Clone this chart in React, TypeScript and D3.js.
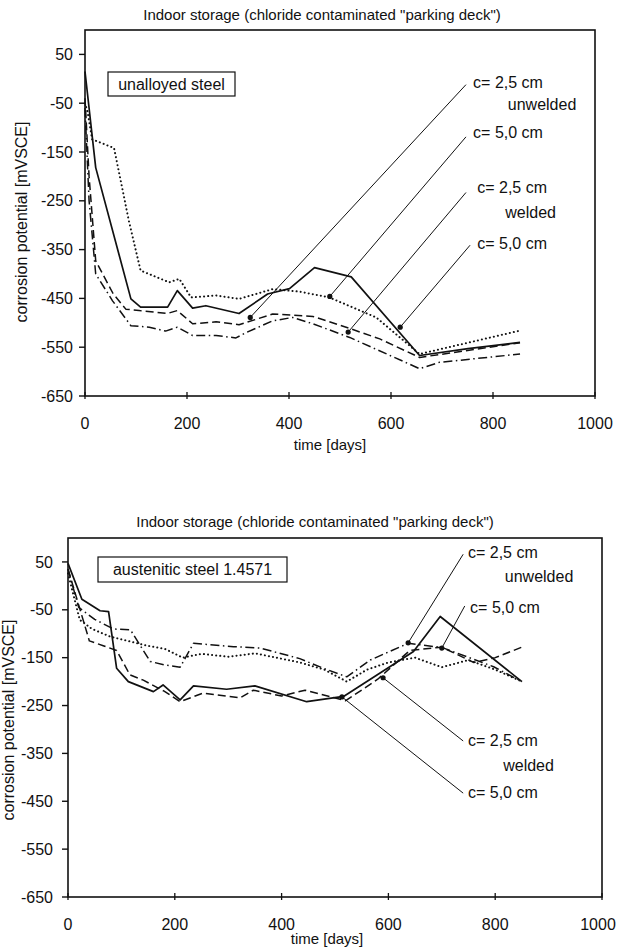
import React from 'react';
import * as d3 from 'd3';

type Pt = [number, number];

// ---------- shared texts / ticks ----------
const titleText = 'Indoor storage (chloride contaminated "parking deck")';
const xAxisTitle = 'time [days]';
const yAxisTitle = 'corrosion potential [mVSCE]';
const xTicks = [0, 200, 400, 600, 800, 1000];
const yTicks = [50, -50, -150, -250, -350, -450, -550, -650];
const xDomain: Pt = [0, 1000];
const yDomain: Pt = [-650, 100];

// ---------- top chart: unalloyed steel ----------
const topBoxLabel = 'unalloyed steel';
const topSolid: Pt[] = [[0, 15], [21, -182], [90, -451], [109, -468], [162, -468], [181, -434], [211, -470], [237, -465], [302, -481], [358, -441], [401, -430], [450, -387], [522, -406], [656, -567], [751, -553], [853, -540]];
const topDotted: Pt[] = [[0, -50], [5, -67], [14, -124], [57, -142], [86, -291], [109, -393], [165, -417], [185, -410], [208, -448], [257, -444], [302, -451], [368, -431], [420, -436], [479, -448], [571, -489], [656, -564], [853, -516]];
const topDashed: Pt[] = [[0, -40], [8, -200], [21, -373], [55, -440], [80, -472], [106, -475], [161, -481], [181, -475], [211, -502], [257, -498], [302, -504], [368, -482], [447, -487], [512, -509], [578, -533], [656, -571], [853, -541]];
const topDashDot: Pt[] = [[0, -60], [8, -250], [21, -400], [54, -455], [90, -506], [126, -509], [158, -517], [181, -509], [211, -526], [257, -526], [296, -531], [316, -520], [368, -496], [407, -489], [447, -502], [519, -530], [656, -594], [695, -581], [853, -564]];
const topLabels: { text: string; day: number; value: number }[] = [
  { text: 'c= 2,5 cm', day: 761, value: -18 },
  { text: 'unwelded', day: 829, value: -63 },
  { text: 'c= 5,0 cm', day: 761, value: -121 },
  { text: 'c= 2,5 cm', day: 769, value: -235 },
  { text: 'welded', day: 824, value: -286 },
  { text: 'c= 5,0 cm', day: 769, value: -348 },
];
const topLeaders: { fromDay: number; fromValue: number; toDay: number; toValue: number }[] = [
  { fromDay: 747, fromValue: -12, toDay: 324, toValue: -489 },
  { fromDay: 747, fromValue: -119, toDay: 480, toValue: -446 },
  { fromDay: 747, fromValue: -233, toDay: 516, toValue: -519 },
  { fromDay: 755, fromValue: -341, toDay: 618, toValue: -509 },
];

// ---------- bottom chart: austenitic steel ----------
const botBoxLabel = 'austenitic steel 1.4571';
const botSolid: Pt[] = [[0, 47], [26, -28], [60, -52], [76, -54], [91, -172], [113, -200], [160, -221], [178, -207], [210, -238], [235, -209], [297, -216], [350, -209], [447, -242], [516, -231], [647, -137], [697, -64], [850, -200]];
const botDotted: Pt[] = [[0, 26], [22, -71], [45, -90], [79, -106], [148, -125], [182, -132], [215, -150], [250, -142], [300, -148], [350, -141], [434, -160], [480, -175], [522, -200], [560, -175], [600, -160], [650, -150], [700, -170], [750, -155], [800, -175], [850, -200]];
const botDashed: Pt[] = [[0, 35], [20, -40], [40, -115], [66, -125], [91, -135], [116, -186], [141, -197], [180, -220], [210, -242], [253, -224], [322, -234], [347, -218], [400, -230], [444, -218], [520, -240], [580, -195], [640, -135], [700, -128], [760, -160], [800, -150], [850, -128]];
const botDashDot: Pt[] = [[0, 35], [20, -45], [50, -70], [85, -90], [117, -92], [154, -158], [180, -165], [210, -170], [235, -120], [310, -127], [360, -130], [434, -152], [478, -172], [522, -190], [566, -155], [637, -120], [701, -129], [747, -148], [797, -169], [850, -200]];
const botLabels: { text: string; day: number; value: number }[] = [
  { text: 'c= 2,5 cm', day: 749, value: 58 },
  { text: 'unwelded', day: 818, value: 8 },
  { text: 'c= 5,0 cm', day: 753, value: -57 },
  { text: 'c= 2,5 cm', day: 749, value: -335 },
  { text: 'welded', day: 815, value: -387 },
  { text: 'c= 5,0 cm', day: 749, value: -443 },
];
const botLeaders: { fromDay: number; fromValue: number; toDay: number; toValue: number }[] = [
  { fromDay: 740, fromValue: 66, toDay: 637, toValue: -119 },
  { fromDay: 743, fromValue: -42, toDay: 700, toValue: -130 },
  { fromDay: 740, fromValue: -324, toDay: 590, toValue: -192 },
  { fromDay: 740, fromValue: -433, toDay: 513, toValue: -232 },
];

const FONT = '"Liberation Sans", Arial, Helvetica, sans-serif';
const PAGE_W = 617;

const styles: Record<string, { dash?: string; width: number; cap: 'butt' | 'round' }> = {
  solid: { width: 1.7, cap: 'butt' },
  dotted: { dash: '0.1 4', width: 2, cap: 'round' },
  dashed: { dash: '8 4', width: 1.5, cap: 'butt' },
  dashdot: { dash: '9 3.5 1.5 3.5', width: 1.5, cap: 'butt' },
};

interface ChartProps {
  left: number; right: number; top: number; bottom: number;
  series: { key: string; data: Pt[] }[];
  labels: { text: string; day: number; value: number }[];
  leaders: { fromDay: number; fromValue: number; toDay: number; toValue: number }[];
  boxLabel: string; boxX: number; boxY: number; boxW: number; boxH: number;
  titleX: number; titleY: number;
  tickLabelY: number; xTitleX: number; xTitleY: number;
  yTitleX: number; yTitleY: number; yLabelGap: number;
}

function Chart(p: ChartProps) {
  const x = d3.scaleLinear().domain(xDomain).range([p.left, p.right]);
  const y = d3.scaleLinear().domain(yDomain).range([p.bottom, p.top]);
  const line = d3.line<Pt>().x(d => x(d[0])).y(d => y(d[1]));
  return (
    <g fontFamily={FONT} fill="#111">
      <text x={p.titleX} y={p.titleY} fontSize={15} textAnchor="middle">{titleText}</text>
      {/* frame */}
      <rect x={p.left} y={p.top} width={p.right - p.left} height={p.bottom - p.top} fill="none" stroke="#111" strokeWidth={1.6} />
      {/* y ticks */}
      {yTicks.map(t => (
        <g key={'y' + t}>
          <line x1={p.left - 6} x2={p.left} y1={y(t)} y2={y(t)} stroke="#111" strokeWidth={1.4} />
          <text x={p.left - p.yLabelGap} y={y(t)} dy="0.35em" fontSize={16} textAnchor="end">{t}</text>
        </g>
      ))}
      {/* x ticks */}
      {xTicks.map(t => (
        <g key={'x' + t}>
          <line x1={x(t)} x2={x(t)} y1={p.bottom - 4} y2={p.bottom + 3} stroke="#111" strokeWidth={1.3} />
          <text x={Math.min(x(t), PAGE_W - 19)} y={p.tickLabelY} dy="0.35em" fontSize={16} textAnchor="middle">{t}</text>
        </g>
      ))}
      <text x={p.xTitleX} y={p.xTitleY} dy="0.35em" fontSize={15} textAnchor="middle">{xAxisTitle}</text>
      <text transform={`translate(${p.yTitleX},${p.yTitleY}) rotate(-90)`} fontSize={16} textAnchor="middle">{yAxisTitle}</text>
      {/* box label */}
      <rect x={p.boxX} y={p.boxY} width={p.boxW} height={p.boxH} fill="#fff" stroke="#111" strokeWidth={1.2} />
      <text x={p.boxX + p.boxW / 2} y={p.boxY + p.boxH / 2} dy="0.35em" fontSize={16} textAnchor="middle">{p.boxLabel}</text>
      {/* series */}
      {p.series.map(s => {
        const st = styles[s.key];
        return (
          <path key={s.key} d={line(s.data) || ''} fill="none" stroke="#111" strokeWidth={st.width}
            strokeDasharray={st.dash} strokeLinecap={st.cap} strokeLinejoin="round" />
        );
      })}
      {/* leaders */}
      {p.leaders.map((l, i) => (
        <g key={'l' + i}>
          <line x1={x(l.fromDay)} y1={y(l.fromValue)} x2={x(l.toDay)} y2={y(l.toValue)} stroke="#111" strokeWidth={1} />
          <circle cx={x(l.toDay)} cy={y(l.toValue)} r={2.6} fill="#111" />
        </g>
      ))}
      {p.labels.map((l, i) => (
        <text key={'t' + i} x={x(l.day)} y={y(l.value)} fontSize={16}>{l.text}</text>
      ))}
    </g>
  );
}

export default function App() {
  return (
    <svg width={617} height={947} style={{ position: 'absolute', left: 0, top: 0, background: '#fff' }}>
      <rect x={0} y={0} width={617} height={947} fill="#fff" />
      <Chart
        left={85} right={595} top={30} bottom={396}
        series={[
          { key: 'solid', data: topSolid },
          { key: 'dotted', data: topDotted },
          { key: 'dashed', data: topDashed },
          { key: 'dashdot', data: topDashDot },
        ]}
        labels={topLabels} leaders={topLeaders}
        boxLabel={topBoxLabel} boxX={108} boxY={72} boxW={127} boxH={24}
        titleX={322} titleY={20}
        tickLabelY={423} xTitleX={330} xTitleY={445}
        yTitleX={27} yTitleY={222} yLabelGap={12}
      />
      <Chart
        left={68} right={602} top={538} bottom={897}
        series={[
          { key: 'solid', data: botSolid },
          { key: 'dotted', data: botDotted },
          { key: 'dashed', data: botDashed },
          { key: 'dashdot', data: botDashDot },
        ]}
        labels={botLabels} leaders={botLeaders}
        boxLabel={botBoxLabel} boxX={98} boxY={557} boxW={189} boxH={25}
        titleX={315} titleY={527}
        tickLabelY={924} xTitleX={327} xTitleY={939}
        yTitleX={14} yTitleY={720} yLabelGap={15}
      />
    </svg>
  );
}
